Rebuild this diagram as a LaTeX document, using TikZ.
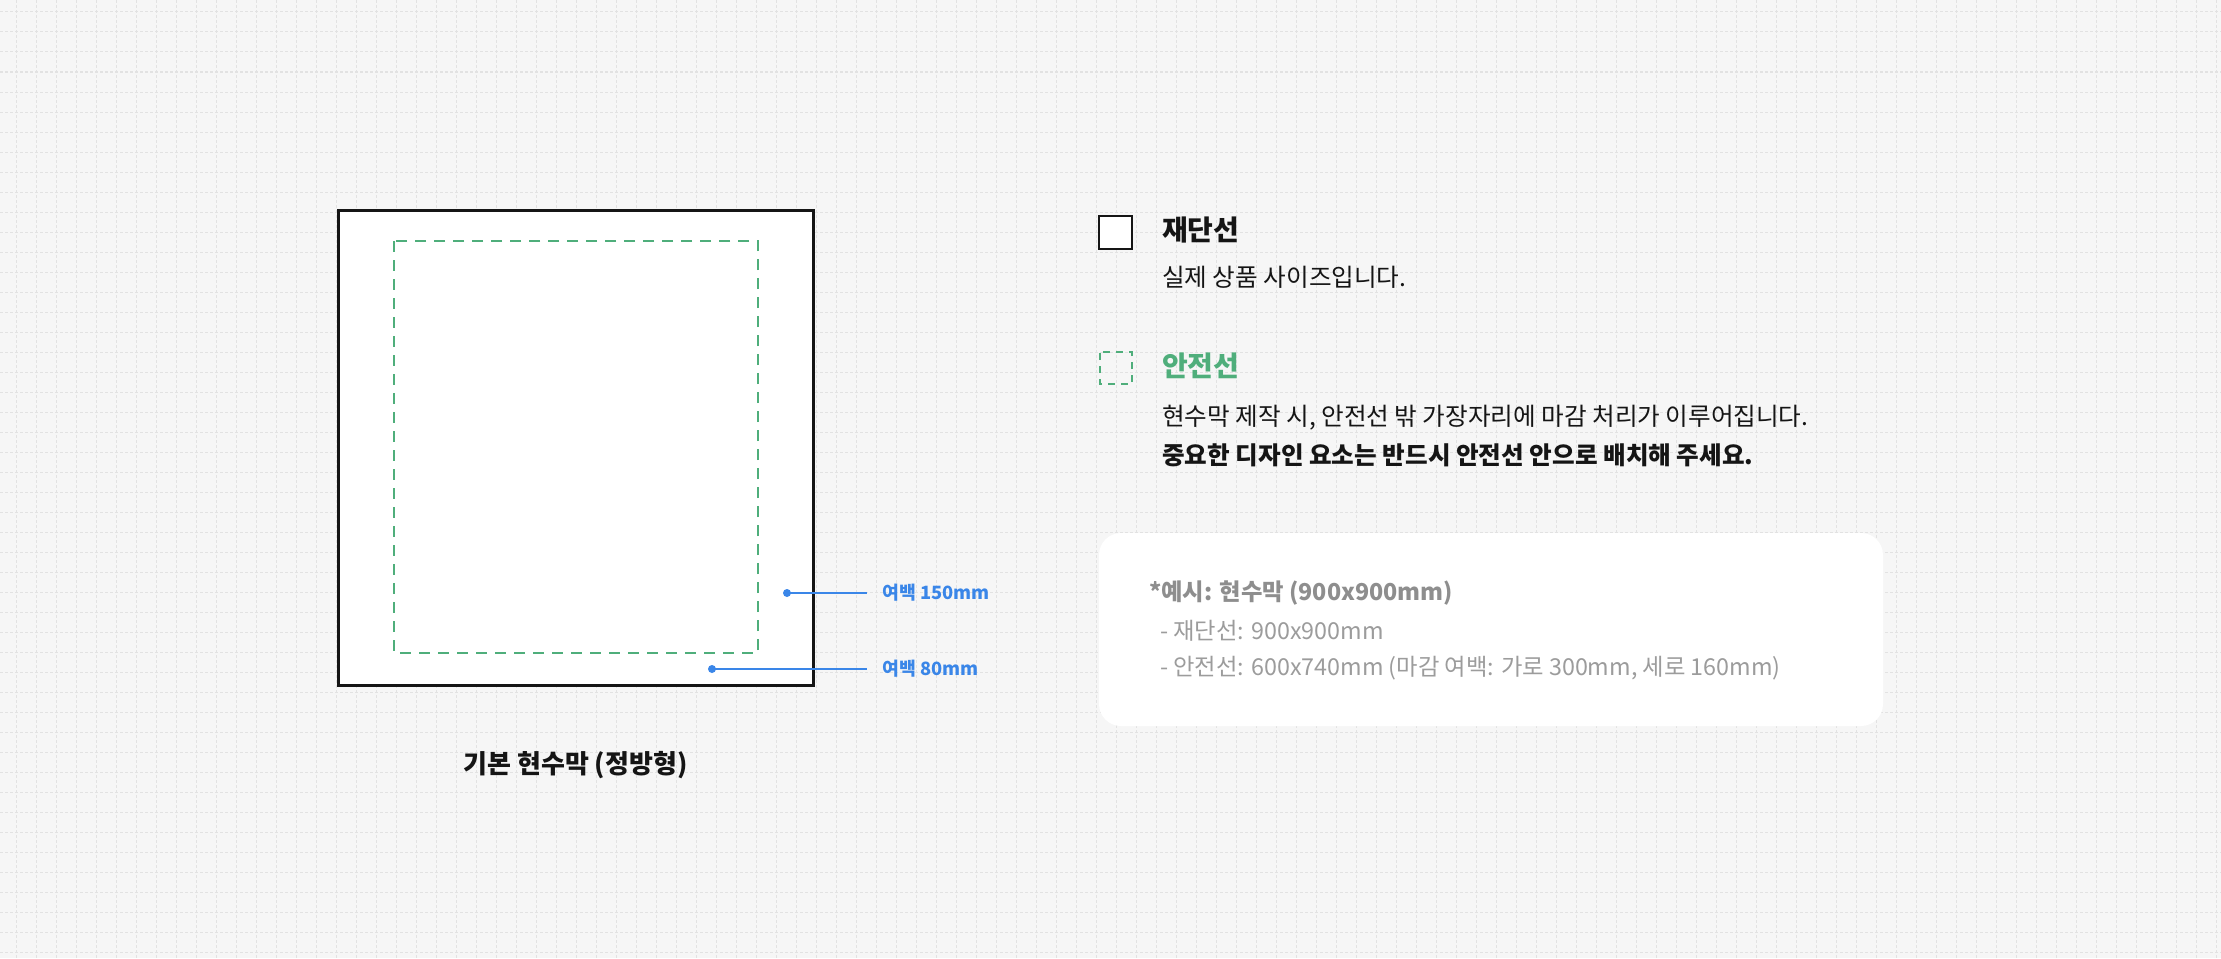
\documentclass[tikz,border=0pt]{standalone}
\usepackage{fontspec}
\setmainfont{Noto Sans CJK KR}
\definecolor{bgc}{HTML}{F6F6F6}
\definecolor{gridc}{HTML}{E2E2E2}
\definecolor{safec}{HTML}{4FAE7B}
\definecolor{bluec}{HTML}{3A86E8}
\definecolor{inkc}{HTML}{151515}
\definecolor{greyc}{HTML}{8E8E8E}
\definecolor{greyl}{HTML}{9C9C9C}
\begin{document}
\begin{tikzpicture}[x=1pt,y=-1pt,
  gridline/.style={draw=gridc,line width=1pt,dash pattern=on 3pt off 2pt},
  cutline/.style={draw=inkc,line width=3pt,fill=white},
  safeline/.style={draw=safec,line width=2pt,dash pattern=on 11pt off 8pt},
  leadline/.style={draw=bluec,line width=1.6pt},
  leaddot/.style={circle,fill=bluec,inner sep=0pt,minimum size=8pt},
  txt/.style={inner sep=0pt,anchor=west},
  title/.style={txt,font=\fontsize{28}{32}\selectfont\bfseries,text=inkc},
  body/.style={txt,font=\fontsize{24.6}{29}\selectfont,text=inkc},
  bodyb/.style={txt,font=\fontsize{24.6}{29}\selectfont\bfseries,text=inkc},
  lbl/.style={txt,font=\fontsize{18.3}{22}\selectfont\bfseries,text=bluec},
  boxt/.style={txt,font=\fontsize{23.3}{27}\selectfont,text=greyl},
  boxtb/.style={txt,font=\fontsize{23.3}{27}\selectfont\bfseries,text=greyc}]
\useasboundingbox (0,0) rectangle (2221,958);
\fill[bgc] (0,0) rectangle (2221,958);
\foreach \x in {16,36,...,2216} \draw[gridline] (\x,0) -- (\x,958);
\foreach \y in {12,32,...,952} \draw[gridline] (0,\y) -- (2221,\y);

% banner
\draw[cutline] (338.5,210.5) rectangle (813.5,685);
\draw[safeline] (394,241) rectangle (758,653);
\node[leaddot] (d1) at (787,593) {};
\node[leaddot] (d2) at (712,669) {};
\node[lbl] (l1) at (882,593) {여백 150mm};
\node[lbl] (l2) at (882,669) {여백 80mm};
\coordinate (e1) at (867,593);
\coordinate (e2) at (867,669);
\draw[leadline] (d1.center) -- (e1);
\draw[leadline] (d2.center) -- (e2);
\node[inner sep=0pt,font=\fontsize{26}{31}\selectfont\bfseries,text=inkc] (cap) at (575.5,765) {기본 현수막 (정방형)};

% legend
\draw[draw=inkc,line width=2.2pt,fill=white] (1099,216) rectangle (1132,249);
\node[title] (t1) at (1162,230) {재단선};
\node[body] (b1) at (1162,277) {실제 상품 사이즈입니다.};
\draw[draw=safec,line width=2pt,dash pattern=on 7pt off 6pt,dash phase=-1pt] (1100,352) rectangle (1132,384);
\node[title,text=safec] (t2) at (1162,366) {안전선};
\node[body] (b2) at (1162,418) {현수막 제작 시, 안전선 밖 가장자리에 마감 처리가 이루어집니다.};
\node[bodyb] (b3) at (1162,455) {중요한 디자인 요소는 반드시 안전선 안으로 배치해 주세요.};

% example box
\fill[white,rounded corners=22pt] (1099,533) rectangle (1883,726);
\node[boxtb] (x1) at (1149,593) {*예시: 현수막 (900x900mm)};
\node[boxt] (x2) at (1160,631) {- 재단선: 900x900mm};
\node[boxt] (x3) at (1160,668) {- 안전선: 600x740mm (마감 여백: 가로 300mm, 세로 160mm)};
\end{tikzpicture}
\end{document}
